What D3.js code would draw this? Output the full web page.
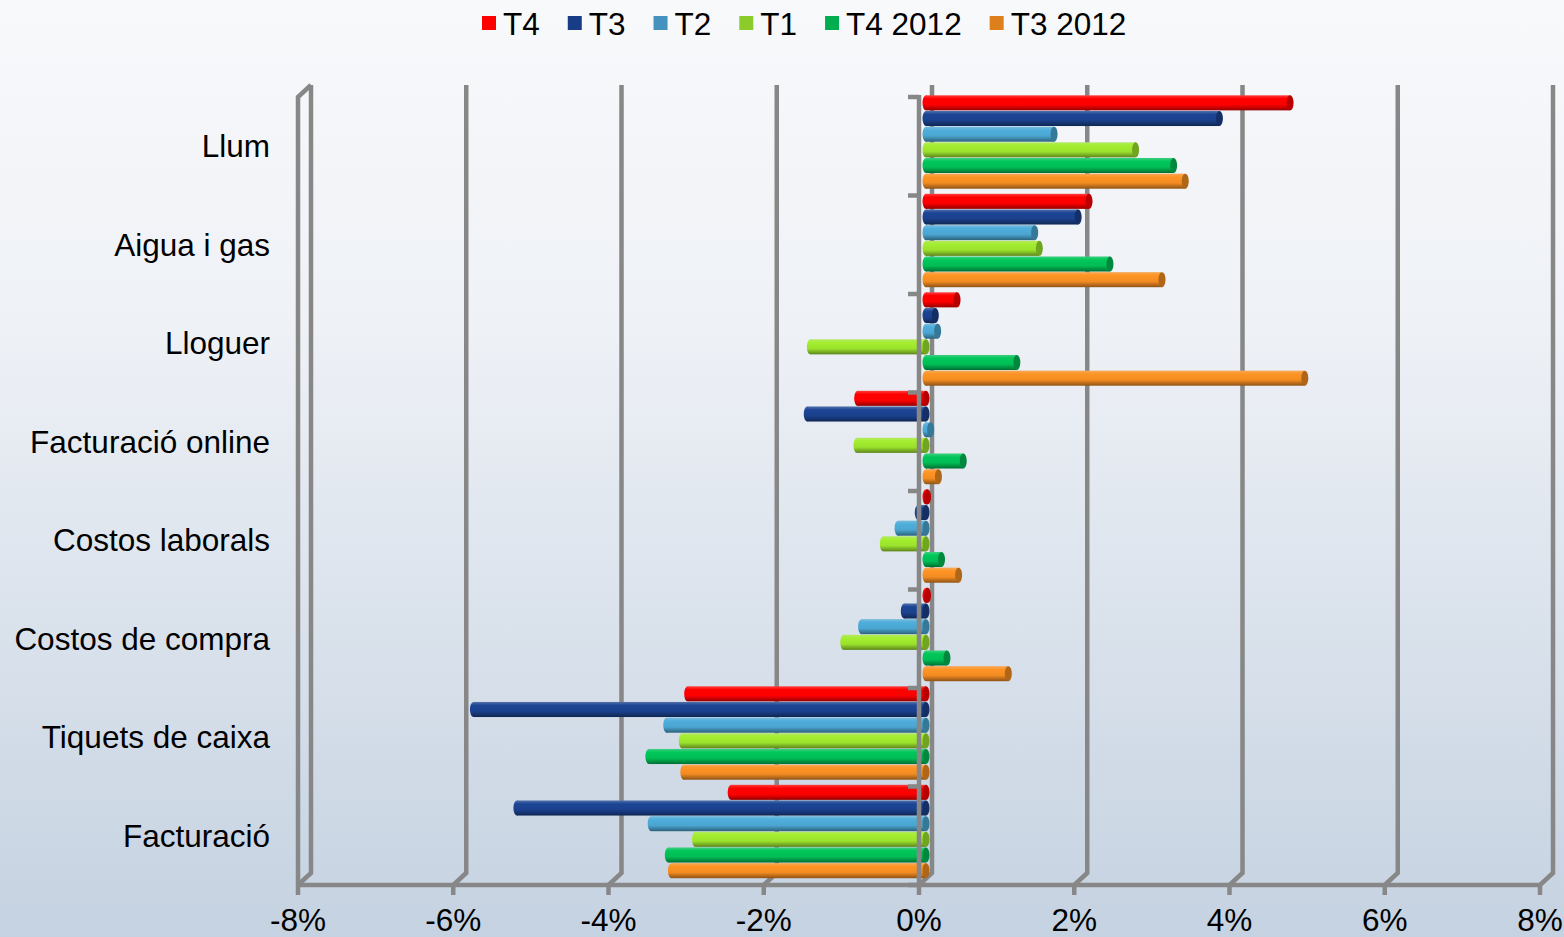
<!DOCTYPE html>
<html>
<head>
<meta charset="utf-8">
<script src="https://cdn.jsdelivr.net/npm/d3@7"></script>
<style>
  html, body { margin: 0; padding: 0; background: #f8f9fb; }
  svg { display: block; }
  text { font-family: "Liberation Sans", Arial, sans-serif; fill: #000; }
</style>
</head>
<body>
<svg id="chart" width="1564" height="937"></svg>
<script>
// Categories, top to bottom
const categories = ["Llum", "Aigua i gas", "Lloguer", "Facturació online",
  "Costos laborals", "Costos de compra", "Tiquets de caixa", "Facturació"];

// Series (percent change per category)
const seriesNames = ["T4", "T3", "T2", "T1", "T4 2012", "T3 2012"];
const valuesT4     = [4.69, 2.10, 0.40, -0.88, 0.02, 0.02, -3.07, -2.51];
const valuesT3     = [3.78, 1.96, 0.12, -1.53, -0.10, -0.28, -5.83, -5.27];
const valuesT2     = [1.65, 1.40, 0.15, 0.06, -0.36, -0.83, -3.34, -3.54];
const valuesT1     = [2.70, 1.46, -1.49, -0.89, -0.55, -1.06, -3.14, -2.97];
const valuesT4_2012 = [3.19, 2.37, 1.17, 0.48, 0.20, 0.27, -3.57, -3.32];
const valuesT3_2012 = [3.34, 3.04, 4.88, 0.16, 0.42, 1.06, -3.12, -3.28];
const seriesValues = [valuesT4, valuesT3, valuesT2, valuesT1, valuesT4_2012, valuesT3_2012];

const tickValues = [-8, -6, -4, -2, 0, 2, 4, 6, 8];
const tickLabels = ["-8%", "-6%", "-4%", "-2%", "0%", "2%", "4%", "6%", "8%"];

const barColors    = ["#ff0000", "#1b418d", "#4ba5d1", "#9be22d", "#00bd55", "#f28c22"];
const legendColors = ["#ff0000", "#183c85", "#4592bf", "#8ccc2a", "#00ae4f", "#dd7f1b"];

const W = 1564, H = 937;
const svg = d3.select("#chart");
const defs = svg.append("defs");

// background wash
const bg = defs.append("linearGradient").attr("id", "bg")
  .attr("x1", 0).attr("y1", 0).attr("x2", 0).attr("y2", 1);
bg.append("stop").attr("offset", "0%").attr("stop-color", "#f8f9fb");
bg.append("stop").attr("offset", "35%").attr("stop-color", "#eef1f6");
bg.append("stop").attr("offset", "100%").attr("stop-color", "#c5d2e1");
svg.append("rect").attr("width", W).attr("height", H).attr("fill", "url(#bg)");

// 3D depth offsets for the back wall and for the bar plane
const depthX = 13, depthY = -12;
const barDX = 7;

// scales
const xFront = d3.scaleLinear().domain([-8, 8]).range([298, 1540]);
const xBar = d3.scaleLinear().domain([-8, 8]).range([298 + barDX, 1540 + barDX]);
const floorY = 885, topY = 97;
const yBand = d3.scaleBand().domain(categories).range([topY, floorY]).padding(0);
const ySeries = d3.scaleBand().domain(seriesNames).range([0, 94]).padding(0);

const gridColor = "#878787";
const gridW = 4.5;

// back wall gridlines, with the short slant down to the floor edge
const grid = svg.append("g").attr("fill", "none").attr("stroke", gridColor)
  .attr("stroke-width", gridW).attr("stroke-linejoin", "miter");
grid.selectAll("path.back").data(tickValues).join("path").attr("class", "back")
  .attr("d", v => {
    const xf = xFront(v);
    return `M${xf + depthX},${topY + depthY} L${xf + depthX},${floorY + depthY} L${xf},${floorY}`;
  });

// left side wall edge
grid.append("path")
  .attr("d", `M${xFront(-8)},${floorY} L${xFront(-8)},${topY} L${xFront(-8) + depthX},${topY + depthY}`);

// cylinder gradients per series
barColors.forEach((c, i) => {
  const g = defs.append("linearGradient").attr("id", "cyl" + i)
    .attr("x1", 0).attr("y1", 0).attr("x2", 0).attr("y2", 1);
  const base = d3.color(c);
  g.append("stop").attr("offset", "0%").attr("stop-color", d3.interpolateRgb(c, "#ffffff")(0.25));
  g.append("stop").attr("offset", "22%").attr("stop-color", base.brighter(0.15).formatHex());
  g.append("stop").attr("offset", "62%").attr("stop-color", c);
  g.append("stop").attr("offset", "85%").attr("stop-color", base.darker(0.8).formatHex());
  g.append("stop").attr("offset", "100%").attr("stop-color", base.darker(1.5).formatHex());
});

// bars as horizontal cylinders
const rows = [];
categories.forEach((cat, ci) => {
  seriesNames.forEach((s, si) => {
    rows.push({ cat, s, si, v: seriesValues[si][ci] });
  });
});
const capRx = 3.5;
const bars = svg.append("g");
const barG = bars.selectAll("g.bar").data(rows).join("g").attr("class", "bar");
barG.each(function (d) {
  const g = d3.select(this);
  const y0 = yBand(d.cat) - 2 + ySeries(d.s);
  const h = ySeries.bandwidth();
  const xa = Math.min(xBar(0), xBar(d.v));
  const xb = Math.max(xBar(0), xBar(d.v));
  const cy = y0 + h / 2;
  g.append("ellipse").attr("cx", xa).attr("cy", cy).attr("rx", capRx).attr("ry", h / 2 - 0.3)
    .attr("fill", `url(#cyl${d.si})`);
  g.append("rect").attr("x", xa).attr("y", y0 + 0.3).attr("width", Math.max(0, xb - xa)).attr("height", h - 0.6)
    .attr("fill", `url(#cyl${d.si})`);
  g.append("ellipse").attr("cx", xb).attr("cy", cy).attr("rx", capRx).attr("ry", h / 2 - 0.3)
    .attr("fill", d3.color(barColors[d.si]).darker(0.9).formatHex());
});

// floor edge and ticks
const front = svg.append("g").attr("fill", "none").attr("stroke", gridColor).attr("stroke-width", gridW);
front.append("line").attr("x1", xFront(-8) - 2).attr("x2", xFront(8) + 2)
  .attr("y1", floorY).attr("y2", floorY);
front.selectAll("line.tick").data(tickValues).join("line").attr("class", "tick")
  .attr("x1", d => xFront(d)).attr("x2", d => xFront(d))
  .attr("y1", floorY).attr("y2", floorY + 10);

// category axis at zero with its tick marks
const x0 = xFront(0);
front.append("line").attr("x1", x0).attr("x2", x0).attr("y1", topY - 2).attr("y2", floorY);
const bounds = categories.map(c => yBand(c)).concat([floorY]);
front.selectAll("line.ctick").data(bounds).join("line").attr("class", "ctick")
  .attr("x1", x0 - 11).attr("x2", x0).attr("y1", d => d).attr("y2", d => d);

// value labels
const fs = 31.5;
svg.append("g").selectAll("text").data(tickValues).join("text")
  .attr("x", d => xFront(d)).attr("y", 931)
  .attr("text-anchor", "middle").attr("font-size", fs)
  .text((d, i) => tickLabels[i]);

// category labels
svg.append("g").selectAll("text").data(categories).join("text")
  .attr("x", 270).attr("y", d => yBand(d) + yBand.bandwidth() / 2 + 11)
  .attr("text-anchor", "end").attr("font-size", fs)
  .text(d => d);

// legend
const legend = svg.append("g");
let lx = 482;
seriesNames.forEach((s, i) => {
  legend.append("rect").attr("x", lx).attr("y", 16).attr("width", 14).attr("height", 14)
    .attr("fill", legendColors[i]);
  const t = legend.append("text").attr("x", lx + 21).attr("y", 35)
    .attr("font-size", fs).text(s);
  lx += 21 + t.node().getComputedTextLength() + 28;
});
</script>
</body>
</html>
